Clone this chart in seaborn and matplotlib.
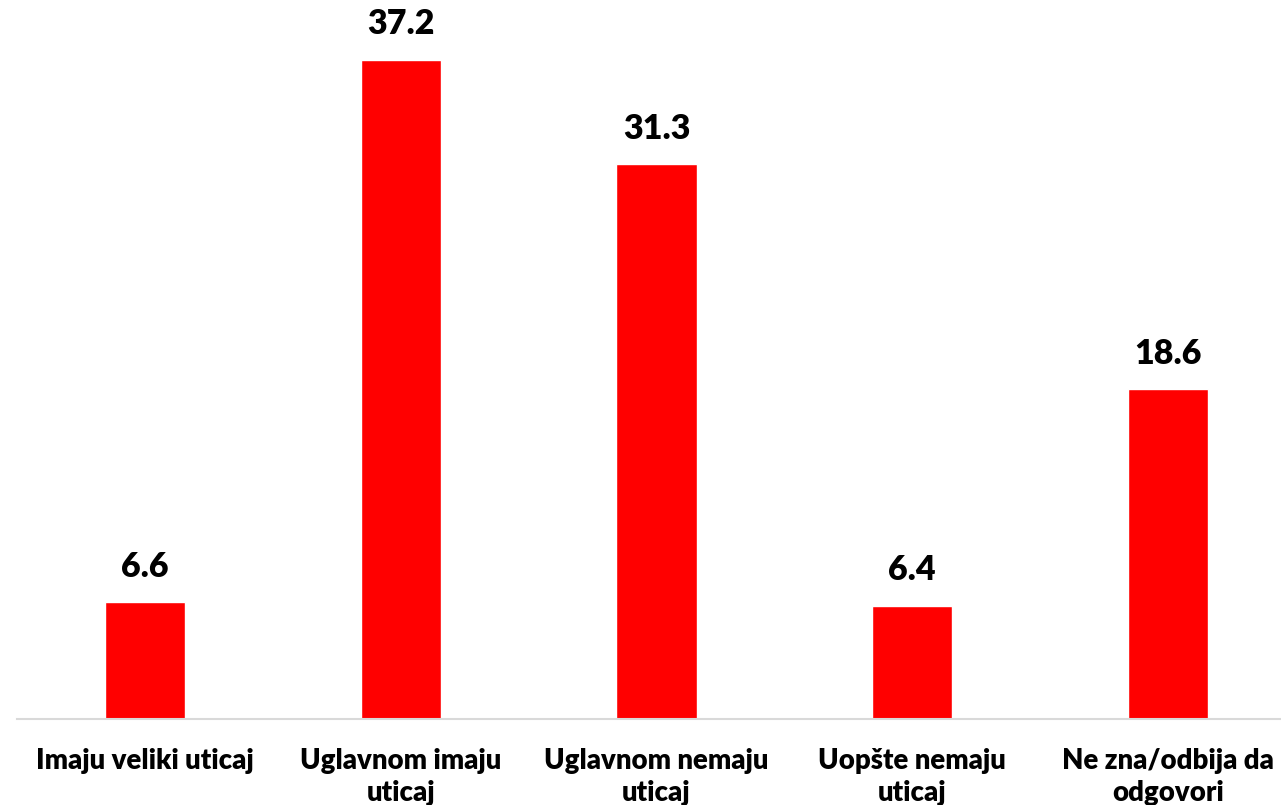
import matplotlib
matplotlib.use("Agg")
import matplotlib.pyplot as plt
import seaborn as sns

categories = ["Imaju veliki uticaj", "Uglavnom imaju\nuticaj", "Uglavnom nemaju\nuticaj",
              "Uopšte nemaju\nuticaj", "Ne zna/odbija da\nodgovori"]
values = [6.6, 37.2, 31.3, 6.4, 18.6]

sns.set_style("white")
plt.rcParams['font.family'] = ['Lato', 'DejaVu Sans']

fig = plt.figure(figsize=(12.81, 8.05), dpi=100)
# axes placed in pixel terms: baseline at y=719, first bar centre at x=145
ax = fig.add_axes([17 / 1281, 86 / 805, 1279 / 1281, 709 / 805])

sns.barplot(x=categories, y=values, color="#ff0000", saturation=1, width=0.313, ax=ax)

ax.set_ylim(0, 40)
ax.set_xlim(-0.5, 4.5)
ax.set_yticks([])
ax.set_ylabel("")
for side in ["top", "right", "left"]:
    ax.spines[side].set_visible(False)
ax.spines["bottom"].set_color("#d9d9d9")
ax.spines["bottom"].set_linewidth(1.5)

ax.tick_params(axis="x", length=0, pad=21, colors="black")
for lbl in ax.get_xticklabels():
    lbl.set_fontsize(19.8)
    lbl.set_fontweight("heavy")
    lbl.set_linespacing(1.3)

ax.bar_label(ax.containers[0], labels=[f"{v:.1f}" for v in values],
             padding=14, fontsize=24.5, fontweight="heavy", color="black")

fig.savefig("out.png", dpi=100)
